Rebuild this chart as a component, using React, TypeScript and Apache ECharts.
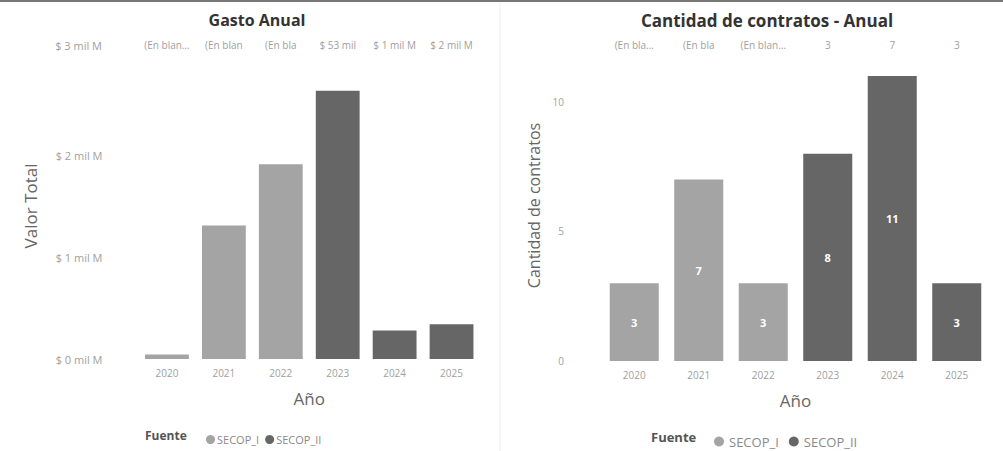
import React, { useEffect, useRef } from "react";
import * as echarts from "echarts";

const years = ["2020", "2021", "2022", "2023", "2024", "2025"];
const gastoSecopI = [0.045, 1.31, 1.91, null, null, null];
const gastoSecopII = [null, null, null, 2.63, 0.28, 0.34];
const contratosSecopI = [3, 7, 3, null, null, null];
const contratosSecopII = [null, null, null, 8, 11, 3];
const gastoHeader = ["(En blan…", "(En blan", "(En bla", "$ 53 mil", "$ 1 mil M", "$ 2 mil M"];
const contratosHeader = ["(En bla…", "(En bla", "(En blan…", "3", "7", "3"];
const gastoTopLabel = "$ 3 mil M";
const legendNames = ["SECOP_I", "SECOP_II"];

const LIGHT = "#a4a4a4";
const DARK = "#666666";
const FONT = "'Open Sans', 'Noto Sans', sans-serif";

export default function App() {
  const ref = useRef<HTMLDivElement>(null);
  useEffect(() => {
    const chart = echarts.init(ref.current!, undefined, { renderer: "svg" });
    const axisLabel = { color: "#a0a0a0", fontSize: 10, fontFamily: FONT };
    const option: any = {
      animation: false,
      backgroundColor: "#ffffff",
      textStyle: { fontFamily: FONT },
      title: [
        {
          text: "Gasto Anual",
          left: 252,
          top: 7,
          textAlign: "center",
          textStyle: { fontSize: 16, fontWeight: "bold", color: "#333", fontFamily: FONT },
        },
        {
          text: "Cantidad de contratos - Anual",
          left: 762,
          top: 7,
          textAlign: "center",
          textStyle: { fontSize: 17, fontWeight: "bold", color: "#333", fontFamily: FONT },
        },
      ],
      legend: [
        {
          data: legendNames,
          left: 201,
          top: 429,
          icon: "circle",
          itemWidth: 9,
          itemHeight: 9,
          itemGap: 6,
          textStyle: { fontSize: 11, color: "#8a8a8a", padding: [0, 0, 0, -3] },
        },
        {
          data: legendNames,
          left: 709,
          top: 430,
          icon: "circle",
          itemWidth: 10,
          itemHeight: 10,
          itemGap: 10,
          textStyle: { fontSize: 13, color: "#8a8a8a" },
        },
      ],
      grid: [
        { left: 138.5, width: 341.5, top: 53, bottom: 92 },
        { left: 602, width: 387, top: 50, bottom: 90 },
      ],
      xAxis: [
        {
          type: "category",
          gridIndex: 0,
          data: years,
          axisLine: { show: false },
          axisTick: { show: false },
          axisLabel: { ...axisLabel, margin: 9 },
          name: "Año",
          nameLocation: "middle",
          nameGap: 31,
          nameTextStyle: { fontSize: 17, color: "#666", fontFamily: FONT },
        },
        {
          type: "category",
          gridIndex: 0,
          position: "top",
          data: years,
          axisLine: { show: false },
          axisTick: { show: false },
          axisLabel: {
            ...axisLabel,
            margin: 3,
            interval: 0,
            formatter: (_v: string, i: number) => gastoHeader[i],
          },
        },
        {
          type: "category",
          gridIndex: 1,
          data: years,
          axisLine: { show: false },
          axisTick: { show: false },
          axisLabel: { ...axisLabel, margin: 9 },
          name: "Año",
          nameLocation: "middle",
          nameGap: 31,
          nameTextStyle: { fontSize: 17, color: "#666", fontFamily: FONT },
        },
        {
          type: "category",
          gridIndex: 1,
          position: "top",
          data: years,
          axisLine: { show: false },
          axisTick: { show: false },
          axisLabel: {
            ...axisLabel,
            margin: 0,
            interval: 0,
            formatter: (_v: string, i: number) => contratosHeader[i],
          },
        },
      ],
      yAxis: [
        {
          type: "value",
          gridIndex: 0,
          min: 0,
          max: 3,
          interval: 1,
          splitLine: { show: false },
          axisLabel: {
            ...axisLabel,
            fontSize: 11,
            margin: 36,
            formatter: (v: number) => (v >= 3 ? "" : `$ ${v} mil M`),
          },
          name: "Valor Total",
          nameLocation: "middle",
          nameGap: 100,
          nameTextStyle: { fontSize: 17, color: "#666", fontFamily: FONT },
        },
        {
          type: "value",
          gridIndex: 1,
          min: 0,
          max: 12,
          interval: 5,
          splitLine: { show: false },
          axisLabel: {
            ...axisLabel,
            margin: 38,
            formatter: (v: number) => (v % 5 === 0 ? String(v) : ""),
          },
          name: "Cantidad de contratos",
          nameLocation: "middle",
          nameGap: 60,
          nameTextStyle: { fontSize: 16, color: "#666", fontFamily: FONT },
        },
      ],
      series: [
        {
          name: "SECOP_I",
          type: "bar",
          xAxisIndex: 0,
          yAxisIndex: 0,
          stack: "g",
          barWidth: "77%",
          data: gastoSecopI,
          itemStyle: { color: LIGHT },
        },
        {
          name: "SECOP_II",
          type: "bar",
          xAxisIndex: 0,
          yAxisIndex: 0,
          stack: "g",
          barWidth: "77%",
          data: gastoSecopII,
          itemStyle: { color: DARK },
        },
        {
          name: "SECOP_I",
          type: "bar",
          xAxisIndex: 2,
          yAxisIndex: 1,
          stack: "c",
          barWidth: "76%",
          data: contratosSecopI,
          itemStyle: { color: LIGHT },
          label: { show: true, position: "inside", color: "#fff", fontWeight: "bold", fontSize: 11 },
        },
        {
          name: "SECOP_II",
          type: "bar",
          xAxisIndex: 2,
          yAxisIndex: 1,
          stack: "c",
          barWidth: "76%",
          data: contratosSecopII,
          itemStyle: { color: DARK },
          label: { show: true, position: "inside", color: "#fff", fontWeight: "bold", fontSize: 11 },
        },
      ],
      graphic: [
        { type: "line", shape: { x1: 0, y1: 1, x2: 1003, y2: 1 }, style: { stroke: "#777", lineWidth: 2 } },
        { type: "line", shape: { x1: 500, y1: 2, x2: 500, y2: 451 }, style: { stroke: "#eeeeee", lineWidth: 1 } },
        {
          type: "text",
          x: 102,
          y: 45,
          style: { text: gastoTopLabel, align: "right", verticalAlign: "middle", fill: "#a0a0a0", fontSize: 11, fontFamily: FONT },
        },
        {
          type: "text",
          x: 145,
          y: 435,
          style: { text: "Fuente", verticalAlign: "middle", fill: "#555", fontSize: 12, fontWeight: "bold", fontFamily: FONT },
        },
        {
          type: "text",
          x: 651,
          y: 437,
          style: { text: "Fuente", verticalAlign: "middle", fill: "#555", fontSize: 13, fontWeight: "bold", fontFamily: FONT },
        },
      ],
    };
    chart.setOption(option);
    return () => chart.dispose();
  }, []);
  return (
    <div
      ref={ref}
      style={{ position: "fixed", left: 0, top: 0, width: 1003, height: 451 }}
    />
  );
}
